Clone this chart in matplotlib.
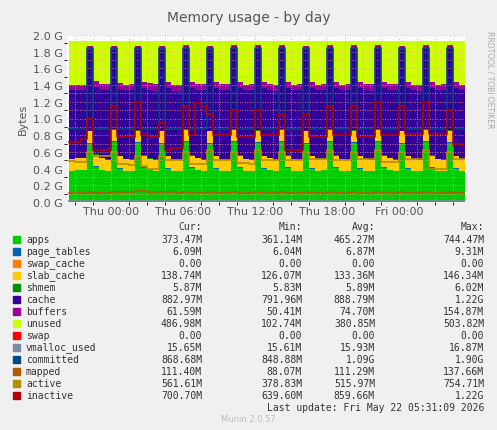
import numpy as np
import matplotlib
matplotlib.use("Agg")
import matplotlib.pyplot as plt

# values in GB, 30-minute steps starting Wed 20:30
apps = [0.37,0.38,0.38,
 0.70,0.42,0.38,0.37, 0.72,0.40,0.37,0.37, 0.71,0.41,0.38,0.37, 0.70,0.40,0.37,0.37,
 0.72,0.41,0.38,0.37, 0.70,0.40,0.37,0.37, 0.72,0.41,0.37,0.37, 0.71,0.40,0.38,0.37,
 0.72,0.41,0.37,0.37, 0.70,0.40,0.37,0.38, 0.72,0.41,0.37,0.37, 0.71,0.40,0.37,0.37,
 0.72,0.41,0.38,0.37, 0.70,0.40,0.37,0.37, 0.72,0.41,0.37,0.37, 0.71,0.40,0.37,0.37]
page_tables = [0.006]*67
swap_cache = [0.0]*67
slab_cache = [0.135,0.135,0.135,
 0.14,0.14,0.135,0.13, 0.14,0.14,0.135,0.13, 0.14,0.14,0.13,0.13, 0.14,0.14,0.13,0.13,
 0.14,0.14,0.135,0.13, 0.14,0.14,0.13,0.13, 0.14,0.14,0.135,0.13, 0.14,0.14,0.135,0.13,
 0.14,0.14,0.135,0.13, 0.14,0.14,0.135,0.13, 0.14,0.14,0.135,0.13, 0.14,0.14,0.135,0.13,
 0.14,0.14,0.135,0.13, 0.14,0.14,0.135,0.13, 0.14,0.14,0.135,0.13, 0.14,0.14,0.135,0.135]
shmem = [0.006]*67
cache = [0.82,0.82,0.82,
 0.97,0.81,0.82,0.83, 0.95,0.80,0.82,0.83, 0.96,0.80,0.82,0.82, 0.97,0.81,0.82,0.82,
 0.96,0.80,0.82,0.83, 0.97,0.81,0.83,0.83, 0.96,0.80,0.82,0.83, 0.97,0.81,0.82,0.82,
 0.96,0.80,0.82,0.83, 0.97,0.81,0.82,0.82, 0.96,0.80,0.82,0.83, 0.97,0.81,0.82,0.82,
 0.96,0.80,0.82,0.83, 0.97,0.81,0.82,0.82, 0.96,0.80,0.82,0.83, 0.97,0.81,0.82,0.82]
buffers = [0.06,0.06,0.06,
 0.05,0.07,0.07,0.07, 0.05,0.07,0.07,0.07, 0.05,0.07,0.08,0.08, 0.05,0.07,0.07,0.07,
 0.05,0.07,0.07,0.07, 0.05,0.07,0.07,0.07, 0.05,0.07,0.07,0.07, 0.05,0.07,0.07,0.07,
 0.05,0.07,0.07,0.07, 0.05,0.07,0.07,0.07, 0.05,0.07,0.07,0.07, 0.05,0.08,0.08,0.08,
 0.05,0.07,0.07,0.07, 0.05,0.07,0.07,0.07, 0.05,0.07,0.07,0.07, 0.05,0.07,0.07,0.07]
total_ram = 1.93
swap = [0.0]*67
vmalloc_used = [0.016]*67
committed = [0.87,0.87,0.87,
 1.85,0.88,0.87,0.87, 1.84,0.88,0.87,0.87, 1.85,0.88,0.87,0.87, 1.84,0.88,0.87,0.87,
 1.85,0.88,0.87,0.87, 1.84,0.88,0.87,0.87, 1.85,0.88,0.87,0.87, 1.85,0.88,0.87,0.87,
 1.84,0.88,0.87,0.87, 1.85,0.88,0.87,0.87, 1.84,0.88,0.87,0.87, 1.85,0.88,0.87,0.87,
 1.84,0.88,0.87,0.87, 1.85,0.88,0.87,0.87, 1.84,0.88,0.87,0.87, 1.85,0.88,0.87,0.87]
mapped = [0.11,0.11,0.11,
 0.12,0.11,0.11,0.11, 0.12,0.12,0.12,0.12, 0.13,0.13,0.12,0.12, 0.12,0.12,0.12,0.11,
 0.12,0.11,0.11,0.11, 0.12,0.11,0.11,0.11, 0.12,0.11,0.11,0.11, 0.12,0.11,0.11,0.11,
 0.12,0.11,0.11,0.11, 0.12,0.11,0.11,0.11, 0.12,0.11,0.11,0.11, 0.12,0.11,0.11,0.11,
 0.12,0.11,0.11,0.11, 0.12,0.11,0.11,0.11, 0.12,0.11,0.11,0.11, 0.12,0.11,0.11,0.11]
active = [0.49,0.48,0.48,
 0.60,0.55,0.55,0.55, 0.60,0.46,0.45,0.44, 0.55,0.43,0.40,0.40, 0.55,0.50,0.50,0.50,
 0.60,0.45,0.45,0.45, 0.62,0.50,0.50,0.50, 0.60,0.47,0.47,0.46, 0.62,0.50,0.50,0.50,
 0.60,0.50,0.50,0.50, 0.60,0.52,0.52,0.51, 0.62,0.50,0.50,0.50, 0.60,0.52,0.52,0.52,
 0.62,0.48,0.48,0.48, 0.60,0.52,0.52,0.52, 0.62,0.40,0.40,0.40, 0.60,0.52,0.52,0.52]
inactive = [0.72,0.72,0.75,
 1.00,0.62,0.62,0.62, 1.15,0.78,0.78,0.78, 1.20,0.80,0.78,0.78, 0.95,0.62,0.65,0.65,
 1.15,0.80,1.18,1.15, 1.05,0.80,0.80,0.80, 1.10,0.78,0.78,0.78, 1.10,0.80,0.80,0.80,
 1.05,0.62,0.62,0.62, 1.05,0.78,0.78,0.78, 1.15,0.80,0.80,0.80, 1.15,0.78,0.78,0.78,
 1.20,0.80,0.80,0.80, 1.15,0.82,0.82,0.82, 1.20,0.82,0.82,0.82, 1.10,0.70,0.70,0.70]

area_names = ["apps","page_tables","swap_cache","slab_cache","shmem","cache","buffers","unused"]
area_cols = ["#00CC00","#0066B3","#FF8000","#FFCC00","#008F00","#330099","#990099","#CCFF00"]
line_names = ["swap","vmalloc_used","committed","mapped","active","inactive"]
line_cols = ["#FF0000","#7A8BA3","#00487D","#B35A00","#B38F00","#B30000"]
stats = [
 ("373.47M","361.14M","465.27M","744.47M"),
 ("6.09M","6.04M","6.87M","9.31M"),
 ("0.00","0.00","0.00","0.00"),
 ("138.74M","126.07M","133.36M","146.34M"),
 ("5.87M","5.83M","5.89M","6.02M"),
 ("882.97M","791.96M","888.79M","1.22G"),
 ("61.59M","50.41M","74.70M","154.87M"),
 ("486.98M","102.74M","380.85M","503.82M"),
 ("0.00","0.00","0.00","0.00"),
 ("15.65M","15.61M","15.93M","16.87M"),
 ("868.68M","848.88M","1.09G","1.90G"),
 ("111.40M","88.07M","111.29M","137.66M"),
 ("561.61M","378.83M","515.97M","754.71M"),
 ("700.70M","639.60M","859.66M","1.22G"),
]

n = len(apps)
t = np.arange(n)*0.5 - 3.5
used = np.array(apps)+np.array(page_tables)+np.array(swap_cache)+np.array(slab_cache)+np.array(shmem)+np.array(cache)+np.array(buffers)
unused = np.clip(total_ram - used, 0, None)
areas = [apps,page_tables,swap_cache,slab_cache,shmem,cache,buffers,unused]
lines = [swap,vmalloc_used,committed,mapped,active,inactive]

W,H = 497,431
fig = plt.figure(figsize=(W/100,H/100), dpi=100, facecolor="#F0F0F0")
ax = fig.add_axes([67/W, 1-203/H, (465-67)/W, (203-36)/H])
ax.set_facecolor("white")
ax.stackplot(t, *areas, colors=area_cols, step="post", linewidth=0)
for v,c in zip(lines,line_cols):
    ax.step(t, v, where="post", color=c, lw=1.2, zorder=3)
ax.set_xlim(-3.67, 29.5)
ax.set_ylim(0, 2.0)
ax.set_yticks(np.arange(0,2.01,0.2))
ax.set_yticklabels([f"{v:.1f} G" for v in np.arange(0,2.01,0.2)], fontsize=8, color="#555555")
ax.set_xticks([0,6,12,18,24])
ax.set_xticklabels(["Thu 00:00","Thu 06:00","Thu 12:00","Thu 18:00","Fri 00:00"], fontsize=8, color="#555555")
ax.set_xticks(np.arange(-3,30,1.5), minor=True)
ax.set_yticks(np.arange(0,2.01,0.1), minor=True)
ax.grid(True, which="both", color="#FF9999", ls=(0,(1,2)), lw=0.6)
ax.set_axisbelow(False)
for s in ax.spines.values(): s.set_visible(False)
ax.tick_params(length=0, pad=3)
ax.set_ylabel("Bytes", fontsize=8, color="#555555")
fig.text(0.5, 1-18/H, "Memory usage - by day", ha="center", va="center", fontsize=10, color="#555555")
fig.text(490/W, 1-80/H, "RRDTOOL / TOBI OETIKER", rotation=270, ha="center", va="center", fontsize=5.5, color="#AAAAAA")

fs = 7.0
def Y(p): return 1-p/H
hy = 227
for x,lab in [(202,"Cur:"),(302,"Min:"),(375,"Avg:"),(484,"Max:")]:
    fig.text(x/W, Y(hy), lab, ha="right", va="center", fontsize=fs, family="DejaVu Sans Mono", color="#333333")
names = area_names+line_names
cols = area_cols+line_cols
for i,(nm,c,st) in enumerate(zip(names,cols,stats)):
    y = hy+13+12*i
    fig.patches.append(plt.Rectangle((13/W, Y(y+3.5)), 7/W, 7/H, transform=fig.transFigure, color=c))
    fig.text(26/W, Y(y), nm, ha="left", va="center", fontsize=fs, family="DejaVu Sans Mono", color="#333333")
    for x,s in zip([202,302,375,484], st):
        fig.text(x/W, Y(y), s, ha="right", va="center", fontsize=fs, family="DejaVu Sans Mono", color="#333333")
fig.text(484/W, Y(408), "Last update: Fri May 22 05:31:09 2026", ha="right", va="center", fontsize=fs, family="DejaVu Sans Mono", color="#333333")
fig.text(248/W, Y(420), "Munin 2.0.57", ha="center", va="center", fontsize=6, color="#BBBBBB")
fig.savefig("out.png", dpi=100, facecolor=fig.get_facecolor())
